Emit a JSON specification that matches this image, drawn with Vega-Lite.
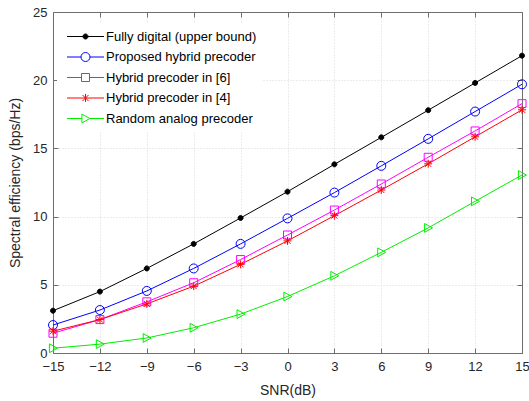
{
  "$schema": "https://vega.github.io/schema/vega-lite/v6.json",
  "autosize": {"type": "none"},
  "width": 469,
  "height": 341,
  "padding": {"left": 53, "top": 12, "right": 7, "bottom": 48},
  "background": "white",
  "config": {
    "font": "Liberation Sans",
    "view": {"stroke": "#6e6e6e", "strokeWidth": 1},
    "axis": {
      "labelFont": "Liberation Sans",
      "labelFontSize": 13,
      "labelColor": "#262626",
      "labelFlush": false,
      "labelOverlap": false,
      "titleFont": "Liberation Sans",
      "titleFontSize": 14,
      "titleFontWeight": "normal",
      "titleColor": "#262626",
      "domainColor": "#6e6e6e",
      "tickColor": "#6e6e6e",
      "gridColor": "#d9d9d9",
      "gridDash": [1, 2],
      "gridWidth": 1,
      "tickSize": -5
    }
  },
  "data": {
    "values": [
      {"snr": -15, "se": 3.1, "scheme": "Fully digital (upper bound)"},
      {"snr": -12, "se": 4.5, "scheme": "Fully digital (upper bound)"},
      {"snr": -9, "se": 6.2, "scheme": "Fully digital (upper bound)"},
      {"snr": -6, "se": 8.0, "scheme": "Fully digital (upper bound)"},
      {"snr": -3, "se": 9.9, "scheme": "Fully digital (upper bound)"},
      {"snr": 0, "se": 11.83, "scheme": "Fully digital (upper bound)"},
      {"snr": 3, "se": 13.83, "scheme": "Fully digital (upper bound)"},
      {"snr": 6, "se": 15.81, "scheme": "Fully digital (upper bound)"},
      {"snr": 9, "se": 17.8, "scheme": "Fully digital (upper bound)"},
      {"snr": 12, "se": 19.8, "scheme": "Fully digital (upper bound)"},
      {"snr": 15, "se": 21.8, "scheme": "Fully digital (upper bound)"},
      {"snr": -15, "se": 2.05, "scheme": "Proposed hybrid precoder"},
      {"snr": -12, "se": 3.15, "scheme": "Proposed hybrid precoder"},
      {"snr": -9, "se": 4.55, "scheme": "Proposed hybrid precoder"},
      {"snr": -6, "se": 6.2, "scheme": "Proposed hybrid precoder"},
      {"snr": -3, "se": 8.0, "scheme": "Proposed hybrid precoder"},
      {"snr": 0, "se": 9.87, "scheme": "Proposed hybrid precoder"},
      {"snr": 3, "se": 11.76, "scheme": "Proposed hybrid precoder"},
      {"snr": 6, "se": 13.72, "scheme": "Proposed hybrid precoder"},
      {"snr": 9, "se": 15.7, "scheme": "Proposed hybrid precoder"},
      {"snr": 12, "se": 17.7, "scheme": "Proposed hybrid precoder"},
      {"snr": 15, "se": 19.7, "scheme": "Proposed hybrid precoder"},
      {"snr": -15, "se": 1.45, "scheme": "Hybrid precoder in [6]"},
      {"snr": -12, "se": 2.45, "scheme": "Hybrid precoder in [6]"},
      {"snr": -9, "se": 3.75, "scheme": "Hybrid precoder in [6]"},
      {"snr": -6, "se": 5.15, "scheme": "Hybrid precoder in [6]"},
      {"snr": -3, "se": 6.85, "scheme": "Hybrid precoder in [6]"},
      {"snr": 0, "se": 8.65, "scheme": "Hybrid precoder in [6]"},
      {"snr": 3, "se": 10.48, "scheme": "Hybrid precoder in [6]"},
      {"snr": 6, "se": 12.39, "scheme": "Hybrid precoder in [6]"},
      {"snr": 9, "se": 14.35, "scheme": "Hybrid precoder in [6]"},
      {"snr": 12, "se": 16.28, "scheme": "Hybrid precoder in [6]"},
      {"snr": 15, "se": 18.28, "scheme": "Hybrid precoder in [6]"},
      {"snr": -15, "se": 1.6, "scheme": "Hybrid precoder in [4]"},
      {"snr": -12, "se": 2.45, "scheme": "Hybrid precoder in [4]"},
      {"snr": -9, "se": 3.6, "scheme": "Hybrid precoder in [4]"},
      {"snr": -6, "se": 4.9, "scheme": "Hybrid precoder in [4]"},
      {"snr": -3, "se": 6.5, "scheme": "Hybrid precoder in [4]"},
      {"snr": 0, "se": 8.22, "scheme": "Hybrid precoder in [4]"},
      {"snr": 3, "se": 10.07, "scheme": "Hybrid precoder in [4]"},
      {"snr": 6, "se": 11.95, "scheme": "Hybrid precoder in [4]"},
      {"snr": 9, "se": 13.87, "scheme": "Hybrid precoder in [4]"},
      {"snr": 12, "se": 15.85, "scheme": "Hybrid precoder in [4]"},
      {"snr": 15, "se": 17.83, "scheme": "Hybrid precoder in [4]"},
      {"snr": -15, "se": 0.35, "scheme": "Random analog precoder"},
      {"snr": -12, "se": 0.65, "scheme": "Random analog precoder"},
      {"snr": -9, "se": 1.1, "scheme": "Random analog precoder"},
      {"snr": -6, "se": 1.85, "scheme": "Random analog precoder"},
      {"snr": -3, "se": 2.85, "scheme": "Random analog precoder"},
      {"snr": 0, "se": 4.14, "scheme": "Random analog precoder"},
      {"snr": 3, "se": 5.66, "scheme": "Random analog precoder"},
      {"snr": 6, "se": 7.38, "scheme": "Random analog precoder"},
      {"snr": 9, "se": 9.17, "scheme": "Random analog precoder"},
      {"snr": 12, "se": 11.12, "scheme": "Random analog precoder"},
      {"snr": 15, "se": 13.05, "scheme": "Random analog precoder"}
    ]
  },
  "layer": [
    {
      "mark": {"type": "line", "strokeWidth": 1, "clip": false},
      "encoding": {
        "x": {
          "field": "snr", "type": "quantitative",
          "scale": {"domain": [-15, 15], "nice": false, "zero": false},
          "axis": {"orient": "bottom", "title": "SNR(dB)", "values": [-15, -12, -9, -6, -3, 0, 3, 6, 9, 12, 15], "grid": true, "labelPadding": 12, "titlePadding": 10}
        },
        "y": {
          "field": "se", "type": "quantitative",
          "scale": {"domain": [0, 25], "nice": false, "zero": true},
          "axis": {"orient": "left", "title": "Spectral efficiency (bps/Hz)", "values": [0, 5, 10, 15, 20, 25], "grid": true, "labelPadding": 11, "titlePadding": 10}
        },
        "color": {
          "field": "scheme", "type": "nominal",
          "scale": {
            "domain": ["Random analog precoder", "Hybrid precoder in [4]", "Hybrid precoder in [6]", "Proposed hybrid precoder", "Fully digital (upper bound)"],
            "range": ["#00ee00", "#ff0000", "#ff00ff", "#0000ff", "#000000"]
          },
          "legend": null
        }
      }
    },
    {
      "mark": {"type": "point", "filled": false, "strokeWidth": 1, "size": 64, "opacity": 1, "clip": false},
      "encoding": {
        "x": {
          "field": "snr", "type": "quantitative",
          "axis": {"orient": "top", "title": null, "labels": false, "grid": false, "values": [-15, -12, -9, -6, -3, 0, 3, 6, 9, 12, 15]}
        },
        "y": {
          "field": "se", "type": "quantitative",
          "axis": {"orient": "right", "title": null, "labels": false, "grid": false, "values": [0, 5, 10, 15, 20, 25]}
        },
        "color": {"field": "scheme", "type": "nominal", "legend": null},
        "shape": {
          "field": "scheme", "type": "nominal",
          "scale": {
            "domain": ["Proposed hybrid precoder", "Hybrid precoder in [6]", "Hybrid precoder in [4]", "Random analog precoder", "Fully digital (upper bound)"],
            "range": [
              "M1.125,0A1.125,1.125,0,1,1,-1.125,0A1.125,1.125,0,1,1,1.125,0Z",
              "M-1,-1L1,-1L1,1L-1,1Z",
              "M-1,0L1,0M0,-1L0,1M-0.75,-0.75L0.75,0.75M-0.75,0.75L0.75,-0.75",
              "M-0.9,-1.1L1.1,0L-0.9,1.1Z",
              "M0.625,0A0.625,0.625,0,1,1,-0.625,0A0.625,0.625,0,1,1,0.625,0Z"
            ]
          },
          "legend": null
        },
        "fill": {
          "field": "scheme", "type": "nominal",
          "scale": {
            "domain": ["Fully digital (upper bound)", "Proposed hybrid precoder", "Hybrid precoder in [6]", "Hybrid precoder in [4]", "Random analog precoder"],
            "range": ["#000000", "transparent", "transparent", "transparent", "transparent"]
          },
          "legend": {
            "title": null,
            "orient": "none",
            "legendX": 4,
            "legendY": 12,
            "padding": 6,
            "fillColor": "white",
            "strokeColor": null,
            "labelFont": "Liberation Sans",
            "labelFontSize": 13,
            "labelColor": "#000000",
            "symbolSize": 64,
            "symbolOffset": 16,
            "labelOffset": 14,
            "rowPadding": 6.5,
            "symbolStrokeWidth": 1,
            "symbolStrokeColor": {"expr": "datum.value === 'Fully digital (upper bound)' ? '#000000' : datum.value === 'Proposed hybrid precoder' ? '#0000ff' : datum.value === 'Hybrid precoder in [6]' ? '#ff00ff' : datum.value === 'Hybrid precoder in [4]' ? '#ff0000' : '#00ee00'"},
            "symbolType": {"expr": "datum.value === 'Fully digital (upper bound)' ? 'M-4.625,0L4.625,0M0.625,0A0.625,0.625,0,1,1,-0.625,0A0.625,0.625,0,1,1,0.625,0Z' : datum.value === 'Proposed hybrid precoder' ? 'M-4.625,0L-1.125,0M1.125,0L4.625,0M1.125,0A1.125,1.125,0,1,1,-1.125,0A1.125,1.125,0,1,1,1.125,0Z' : datum.value === 'Hybrid precoder in [6]' ? 'M-4.625,0L-1,0M1,0L4.625,0M-1,-1L1,-1L1,1L-1,1Z' : datum.value === 'Hybrid precoder in [4]' ? 'M-4.625,0L4.625,0M0,-1L0,1M-0.75,-0.75L0.75,0.75M-0.75,0.75L0.75,-0.75' : 'M-4.625,0L-0.9,0M1.1,0L4.625,0M-0.9,-1.1L1.1,0L-0.9,1.1Z'"}
          }
        }
      }
    }
  ],
  "resolve": {"axis": {"x": "independent", "y": "independent"}}
}
